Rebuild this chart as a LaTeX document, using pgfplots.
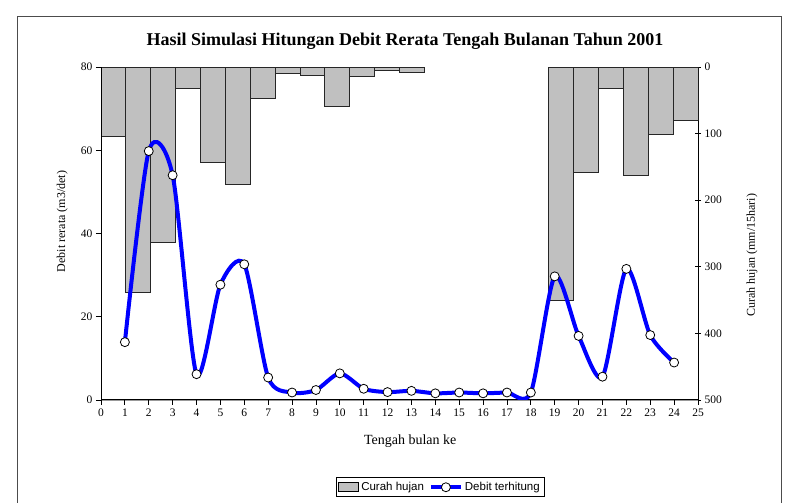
\documentclass[border=0pt]{standalone}
\usepackage{pgfplots}
\pgfplotsset{compat=1.18}
\usepackage{fontspec}
\setmainfont{Liberation Serif}
\newfontfamily\arialfont{Liberation Sans}
\definecolor{bargray}{RGB}{192,192,192}
\begin{document}
\begin{tikzpicture}[x=1pt,y=1pt]
\useasboundingbox (0,0) rectangle (795,503);
\draw[black!70, line width=1pt] (17,-10) -- (17,486) -- (781,486) -- (781,-10);
\node[font=\fontsize{18}{20}\selectfont\bfseries] at (405,462) {Hasil Simulasi Hitungan Debit Rerata Tengah Bulanan Tahun 2001};
% bars: rainfall (right axis)
\begin{axis}[
  scale only axis, width=597pt, height=333pt,
  at={(101pt,103pt)}, anchor=south west,
  xmin=0, xmax=24, ymin=0, ymax=500,
  y dir=reverse,
  axis x line=none,
  axis y line*=right,
  ytick={0,100,...,500},
  tick align=center,
  major tick length=6pt,
  tick style={black, line width=0.8pt},
  axis line style={black, line width=1pt},
  ticklabel style={font=\fontsize{11.5}{13}\selectfont},
  /pgf/number format/assume math mode=true,
  ylabel={Curah hujan (mm/15hari)},
  ylabel style={at={(axis description cs:1.0905,0.435)}, anchor=center, font=\fontsize{12}{14}\selectfont, rotate=0},
  ybar, bar width=1,
]
\addplot[fill=bargray, draw=black!85, line width=1pt] coordinates {
(0.5,105) (1.5,338) (2.5,264) (3.5,32) (4.5,144) (5.5,177) (6.5,48)
(7.5,10.5) (8.5,12.5) (9.5,60) (10.5,14.5) (11.5,5) (12.5,9)
(18.5,350) (19.5,158) (20.5,32) (21.5,163) (22.5,102) (23.5,81)
};
\draw[black!40, line width=0.8pt] (rel axis cs:0,0) -- (rel axis cs:1,0);
\end{axis}
% line: discharge (left axis)
\begin{axis}[
  scale only axis, width=597pt, height=333pt,
  at={(101pt,103pt)}, anchor=south west,
  xmin=0, xmax=25, ymin=0, ymax=80,
  axis x line*=bottom, axis y line*=left,
  xtick={0,1,...,25}, ytick={0,20,...,80},
  tick align=outside,
  major tick length=5pt,
  tick style={black, line width=0.8pt},
  axis line style={black, line width=1pt},
  ticklabel style={font=\fontsize{11.5}{13}\selectfont},
  /pgf/number format/assume math mode=true,
  xlabel={Tengah bulan ke},
  xlabel style={at={(axis description cs:0.518,-0.123)}, anchor=center, font=\fontsize{14}{16}\selectfont},
  ylabel={Debit rerata (m3/det)},
  ylabel style={at={(axis description cs:-0.065,0.536)}, anchor=center, font=\fontsize{12}{14}\selectfont},
  legend columns=2,
  legend style={at={(axis description cs:0.568,-0.262)}, anchor=center, draw=black, line width=0.8pt,
    font=\arialfont\fontsize{11.5}{13}\selectfont, inner sep=2.5pt,
    /tikz/every even column/.append style={column sep=3pt}},
  legend image code/.code={},
]
\addlegendimage{legend image code/.code={\draw[fill=bargray, draw=black, line width=0.8pt] (0pt,-4.5pt) rectangle (20pt,4.5pt);}}
\addlegendentry{Curah hujan}
\addplot[blue, line width=4pt, smooth, tension=0.45, mark=*, mark size=4.5pt,
  mark options={fill=white, draw=black, line width=0.8pt},
  legend image code/.code={\draw[blue, line width=4pt] (0pt,0pt) -- (30pt,0pt); \draw[fill=white, draw=black, line width=0.8pt] (15pt,0pt) circle (4.5pt);}] coordinates {
(1,13.9) (2,59.8) (3,54.0) (4,6.2) (5,27.7) (6,32.6) (7,5.4) (8,1.8)
(9,2.4) (10,6.4) (11,2.7) (12,1.9) (13,2.2) (14,1.6) (15,1.8) (16,1.6)
(17,1.8) (18,1.8) (19,29.7) (20,15.4) (21,5.6) (22,31.5) (23,15.6) (24,9.0)
};
\addlegendentry{Debit terhitung}
\end{axis}
\end{tikzpicture}
\end{document}
